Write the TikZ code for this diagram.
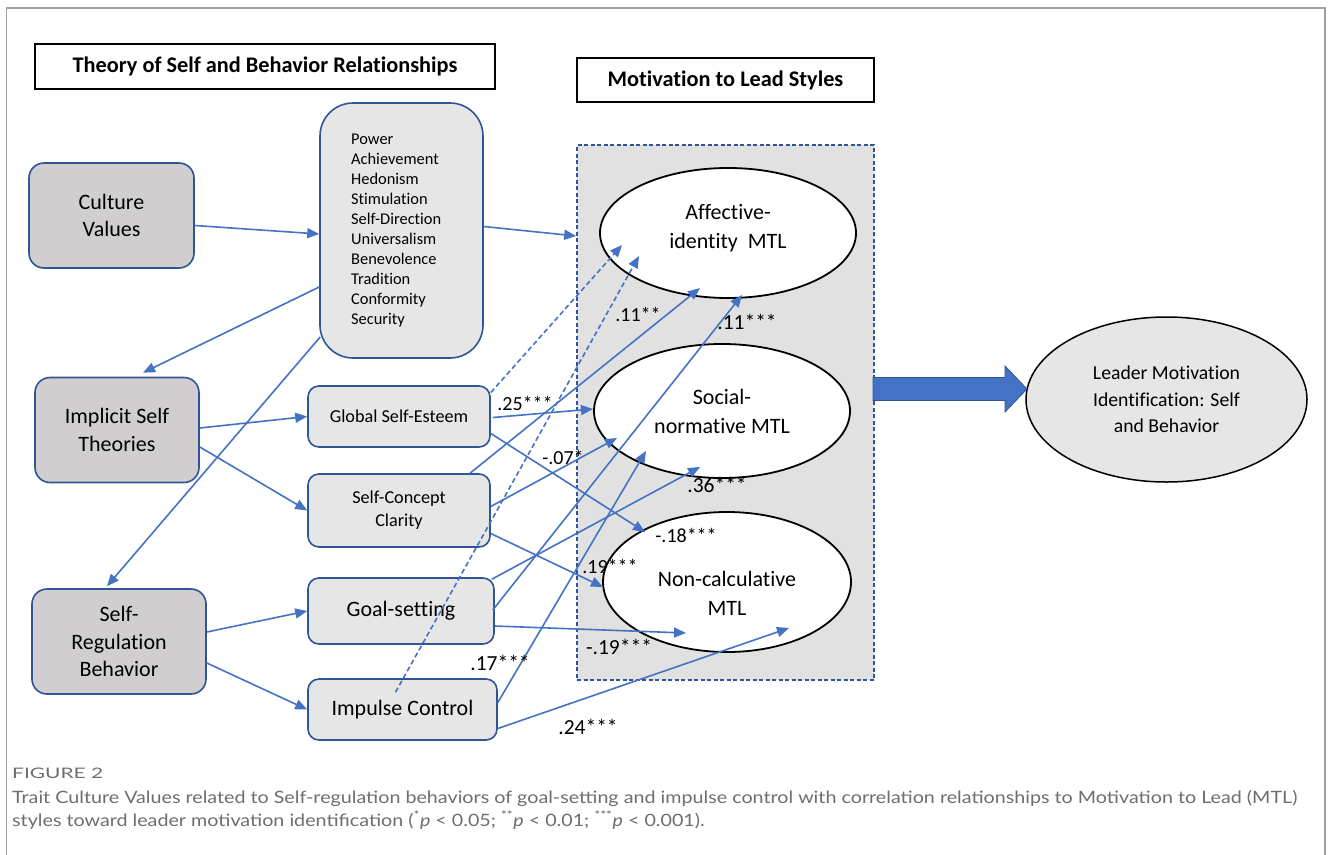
\documentclass[tikz,border=0pt]{standalone}
\usepackage{fontspec}
\usepackage{graphicx}
\setmainfont{Carlito}[Ligatures=NoCommon]
\newfontfamily\capfont{Lato}
\usetikzlibrary{arrows.meta,calc,shapes.geometric}
\definecolor{lineblue}{HTML}{4472C4}
\definecolor{boxblue}{HTML}{2F5597}
\definecolor{darkfill}{HTML}{D0CECE}
\definecolor{lightfill}{HTML}{E7E6E6}
\definecolor{panelfill}{HTML}{E1E1E1}
\definecolor{capgray}{HTML}{6E6E6E}
\definecolor{framegray}{HTML}{A0A0A0}
\tikzset{
  titlebox/.style={draw=black, line width=1.4pt, fill=white, inner sep=0pt, font=\bfseries\fontsize{22.3}{26}\selectfont},
  panel/.style={draw=boxblue, line width=1.6pt, dash pattern=on 4pt off 2.5pt, fill=panelfill, inner sep=0pt},
  srcbox/.style={draw=boxblue, line width=1.6pt, rounded corners=15pt, fill=darkfill, align=center, inner sep=0pt, font=\fontsize{22}{27.5}\selectfont},
  midbox/.style={draw=boxblue, line width=1.6pt, rounded corners=11pt, fill=lightfill, align=center, inner sep=0pt},
  smalltxt/.style={font=\fontsize{18.2}{23}\selectfont},
  bigtxt/.style={font=\fontsize{22}{27}\selectfont},
  mtlell/.style={ellipse, draw=black, line width=1.8pt, fill=white, inner sep=0pt},
  mtltxt/.style={align=center, inner sep=0pt, font=\fontsize{22}{29}\selectfont},
  link/.style={draw=lineblue, line width=1.6pt, -{Triangle[length=12pt,width=10pt]}},
  dlink/.style={link, dash pattern=on 5pt off 3pt},
  lab/.style={inner sep=0pt, font=\fontsize{20}{24}\selectfont},
  biglab/.style={inner sep=0pt, font=\fontsize{21.5}{24}\selectfont},
}
\begin{document}
\begin{tikzpicture}[x=1pt,y=-1pt]
\useasboundingbox (0,0) rectangle (1330,854);
\fill[white] (0,0) rectangle (1330,854);
\draw[framegray, line width=1.3pt] (6.5,860) -- (6.5,8) -- (1325,8) -- (1325,860);

% titles
\node[titlebox, minimum width=460pt, minimum height=45pt] (t1) at (265,66.5) {Theory of Self and Behavior Relationships};
\node[titlebox, minimum width=297pt, minimum height=44pt] (t2) at (725.5,80) {Motivation to Lead Styles};

% panel
\node[panel, minimum width=297pt, minimum height=535pt] (mtl) at (725.5,412.5) {};

% source boxes
\node[srcbox, minimum width=165pt, minimum height=105pt] (cv) at (111.5,215.5) {Culture\\Values};
\node[srcbox, minimum width=164pt, minimum height=105pt] (ist) at (117,430) {Implicit Self\\Theories};
\node[srcbox, minimum width=174pt, minimum height=105pt] (srb) at (119,641.5) {Self-\\Regulation\\Behavior};

% values box
\node[midbox, rounded corners=33pt, minimum width=163pt, minimum height=255pt] (vals) at (401.5,230.5) {};
\node[anchor=west, align=left, inner sep=0pt, font=\fontsize{16.4}{20}\selectfont] (vlist) at (351,231) {Power\\Achievement\\Hedonism\\Stimulation\\Self-Direction\\Universalism\\Benevolence\\Tradition\\Conformity\\Security};

% middle boxes
\node[midbox, smalltxt, minimum width=182pt, minimum height=61pt] (gse) at (399,416.5) {Global Self-Esteem};
\node[midbox, smalltxt, minimum width=182pt, minimum height=73pt] (scc) at (399,510.5) {Self-Concept\\Clarity};
\node[midbox, bigtxt, minimum width=186pt, minimum height=66pt] (goal) at (401,611) {Goal-setting};
\node[midbox, bigtxt, minimum width=189pt, minimum height=61pt] (imp) at (402.5,709.5) {Impulse Control};

% MTL ellipses
\node[mtlell, minimum width=256pt, minimum height=130pt] (aff) at (728,233) {};
\node[mtltxt] (afftxt) at (728,228) {Affective-\\identity\ \ MTL};
\node[mtlell, minimum width=256pt, minimum height=134pt] (soc) at (722,411) {};
\node[mtltxt] (soctxt) at (722,411.5) {Social-\\normative MTL};
\node[mtlell, minimum width=248pt, minimum height=140pt] (nc) at (727,582) {};
\node[mtltxt] (nctxt) at (727,593) {Non-calculative\\MTL};

% leader ellipse
\node[ellipse, draw=black, line width=1.5pt, fill=lightfill, inner sep=0pt, minimum width=281pt, minimum height=165pt, align=center, font=\fontsize{19.7}{26.5}\selectfont] (lead) at (1166.5,399.5) {Leader Motivation\\Identification: Self\\and Behavior};

% big arrow
\draw[fill=lineblue, draw=boxblue, line width=0.8pt] (873,377.5) -- (1005,377.5) -- (1005,366) -- (1027,389) -- (1005,412) -- (1005,400.5) -- (873,400.5) -- cycle;

% left connectors
\draw[link] ($(cv.east)+(0,10)$) -- ($(vals.west)+(0,3.5)$);
\draw[link] ($(vals.west)+(0,56.5)$) -- ($(ist.north)+(26,-4)$);
\draw[link] ($(vals.west)+(1,106.5)$) -- ($(srb.north)+(-12,-2)$);
\draw[link] ($(vals.east)+(0,-4)$) -- ($(mtl.west)+(0,-176.5)$);
\draw[link] ($(ist.east)+(0,-2)$) -- (gse.west);
\draw[link] ($(ist.east)+(0,17)$) -- (scc.west);
\draw[link] ($(srb.east)+(0,-9.5)$) -- (goal.west);
\draw[link] ($(srb.east)+(0,21.5)$) -- (imp.west);

% MTL connectors
\draw[dlink] ($(gse.east)+(0,-24)$) -- ($(aff.center)+(-106,12)$);
\draw[dlink] ($(imp.north)+(-7,14)$) -- ($(aff.center)+(-89,23)$);
\draw[link] ($(gse.east)+(2,1)$) -- ($(soc.center)+(-129,-2)$);
\draw[link] ($(gse.east)+(0,17)$) -- ($(nc.center)+(-82,-50)$);
\draw[link] ($(scc.north)+(71,0)$) -- ($(aff.center)+(-28,55)$);
\draw[link] ($(scc.east)+(0,-4)$) -- ($(soc.center)+(-105,27)$);
\draw[link] ($(scc.east)+(0,23)$) -- ($(nc.center)+(-124,5)$);
\draw[link] ($(goal.north east)+(-3,2)$) -- ($(soc.center)+(-22,56)$);
\draw[link] ($(goal.east)+(-2,-1)$) -- ($(aff.center)+(14,62)$);
\draw[link] ($(goal.east)+(0,15)$) -- ($(nc.center)+(-41,51)$);
\draw[link] ($(imp.east)+(0,-7)$) -- ($(soc.center)+(-76,40)$);
\draw[link] ($(imp.east)+(0,19)$) -- ($(nc.center)+(62,46)$);

% labels
\node[lab] (l25) at (525,403) {.25***};
\node[lab] (l11a) at (638,314) {.11**};
\node[biglab] (l11b) at (747,322) {.11***};
\node[lab] (l07) at (563,457) {-.07*};
\node[biglab] (l36) at (717,485) {.36***};
\node[lab] (l18) at (686,535) {-.18***};
\node[lab] (l19a) at (610,566) {.19***};
\node[biglab] (l19b) at (619,647) {-.19***};
\node[biglab] (l17) at (500,663) {.17***};
\node[biglab] (l24) at (588,727) {.24***};

% caption
\node[anchor=base west, inner sep=0pt, text=capgray] (fig) at (12,778) {\resizebox{91pt}{\height}{\capfont\fontsize{14.5}{16}\selectfont FIGURE 2}};
\node[anchor=base west, inner sep=0pt, text=capgray] (cap) at (12,803) {\resizebox{1285pt}{\height}{\capfont\fontsize{17}{23}\selectfont\begin{tabular}[t]{@{}l@{}}Trait Culture Values related to Self-regulation behaviors of goal-setting and impulse control with correlation relationships to Motivation to Lead (MTL)\\styles toward leader motivation identification (\textsuperscript{*}\textit{p} < 0.05; \textsuperscript{**}\textit{p} < 0.01; \textsuperscript{***}\textit{p} < 0.001).\end{tabular}}};
\end{tikzpicture}
\end{document}
